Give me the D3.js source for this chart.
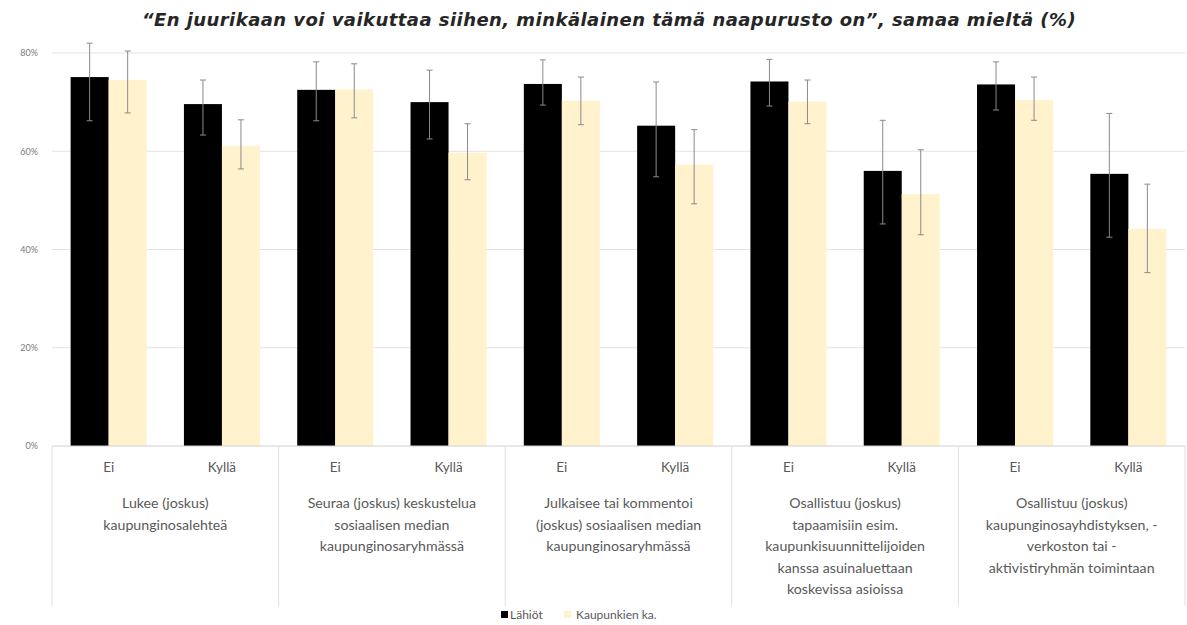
<!DOCTYPE html>
<html><head><meta charset="utf-8">
<script src="https://cdn.jsdelivr.net/npm/d3@7"></script>
<style>body{margin:0;background:#fff}svg{display:block}</style>
</head><body>
<svg id="c" width="1187" height="625"></svg>
<script>
const groups = [
  ["Lukee (joskus)", "kaupunginosalehteä"],
  ["Seuraa (joskus) keskustelua", "sosiaalisen median", "kaupunginosaryhmässä"],
  ["Julkaisee tai kommentoi", "(joskus) sosiaalisen median", "kaupunginosaryhmässä"],
  ["Osallistuu (joskus)", "tapaamisiin esim.", "kaupunkisuunnittelijoiden", "kanssa asuinaluettaan", "koskevissa asioissa"],
  ["Osallistuu (joskus)", "kaupunginosayhdistyksen, -", "verkoston tai -", "aktivistiryhmän toimintaan"]
];
const subcats = ["Ei", "Kyllä"];
const seriesNames = ["Lähiöt", "Kaupunkien ka."];
const lahiot      = [75.1, 69.6, 72.5, 70.0, 73.7, 65.2, 74.2, 56.0, 73.6, 55.4];
const lahiotLow   = [66.2, 63.3, 66.2, 62.5, 69.4, 54.8, 69.2, 45.2, 68.4, 42.5];
const lahiotHigh  = [82.0, 74.5, 78.2, 76.5, 78.6, 74.1, 78.7, 66.3, 78.2, 67.7];
const kaupunki     = [74.5, 61.1, 72.6, 59.7, 70.3, 57.3, 70.1, 51.3, 70.4, 44.2];
const kaupunkiLow  = [67.8, 56.4, 66.8, 54.2, 65.4, 49.3, 65.6, 43.0, 66.3, 35.3];
const kaupunkiHigh = [80.4, 66.4, 77.8, 65.6, 75.1, 64.4, 74.5, 60.3, 75.1, 53.3];
const yTicks = [0, 20, 40, 60, 80];
const title = "“En juurikaan voi vaikuttaa siihen, minkälainen tämä naapurusto on”, samaa mieltä (%)";

(function () {
const svg = d3.select("#c");
const mLeft = 52, mRight = 1185, mTop = 53, mBottom = 446;
const y = d3.scaleLinear().domain([0, 80]).range([mBottom, mTop]);
const keys = d3.range(10);
const x = d3.scaleBand().domain(keys).range([mLeft, mRight]).paddingInner(0).paddingOuter(0);
const inner = d3.scaleBand().domain([0, 1]).range([0, x.bandwidth()]).paddingInner(0).paddingOuter(0.49);
const gx = d3.scaleBand().domain(d3.range(5)).range([mLeft, mRight]);

svg.append("g").selectAll("line").data(yTicks.filter(d => d > 0)).join("line")
  .attr("x1", mLeft).attr("x2", mRight).attr("y1", d => y(d)).attr("y2", d => y(d))
  .attr("stroke", "#e3e3e3").attr("stroke-width", 1);

const yAxis = d3.axisLeft(y).tickValues(yTicks).tickSize(0).tickPadding(14).tickFormat(d => d + "%");
const ya = svg.append("g").attr("transform", `translate(${mLeft},0)`).call(yAxis);
ya.select(".domain").remove();
ya.selectAll("text").attr("font-family", "Lato, sans-serif").attr("font-size", 9).attr("fill", "#7a7a7a");

const series = [
  {vals: lahiot, lo: lahiotLow, hi: lahiotHigh, color: "#000000"},
  {vals: kaupunki, lo: kaupunkiLow, hi: kaupunkiHigh, color: "#fff2cc"}
];
series.forEach((s, si) => {
  svg.append("g").selectAll("rect").data(keys).join("rect")
    .attr("x", i => x(i) + inner(si)).attr("width", inner.bandwidth())
    .attr("y", i => y(s.vals[i])).attr("height", i => y(0) - y(s.vals[i]))
    .attr("fill", s.color);
});
series.forEach((s, si) => {
  const g = svg.append("g").attr("stroke", "#8a8a8a").attr("stroke-width", 1);
  keys.forEach(i => {
    const cx = x(i) + inner(si) + inner.bandwidth() / 2;
    g.append("line").attr("x1", cx).attr("x2", cx).attr("y1", y(s.hi[i])).attr("y2", y(s.lo[i]));
    g.append("line").attr("x1", cx - 3).attr("x2", cx + 3).attr("y1", y(s.hi[i])).attr("y2", y(s.hi[i]));
    g.append("line").attr("x1", cx - 3).attr("x2", cx + 3).attr("y1", y(s.lo[i])).attr("y2", y(s.lo[i]));
  });
});

svg.append("line").attr("x1", mLeft).attr("x2", mRight).attr("y1", mBottom).attr("y2", mBottom)
  .attr("stroke", "#d0d0d0");
svg.append("g").selectAll("line").data(d3.range(6)).join("line")
  .attr("x1", d => d < 5 ? gx(d) : mRight).attr("x2", d => d < 5 ? gx(d) : mRight)
  .attr("y1", mBottom).attr("y2", 606).attr("stroke", "#e0e0e0");

svg.append("g").selectAll("text").data(keys).join("text")
  .attr("x", i => x(i) + x.bandwidth() / 2).attr("y", 472)
  .attr("text-anchor", "middle").attr("font-family", "Lato, sans-serif").attr("font-size", 13.5)
  .attr("fill", "#595959").text(i => subcats[i % 2]);

groups.forEach((lines, gi) => {
  const t = svg.append("text").attr("text-anchor", "middle")
    .attr("font-family", "Lato, sans-serif").attr("font-size", 14.2).attr("fill", "#595959");
  lines.forEach((ln, li) => {
    t.append("tspan").attr("x", gx(gi) + gx.bandwidth() / 2).attr("y", 508 + li * 21.5).text(ln);
  });
});

svg.append("text").attr("x", 609).attr("y", 26).attr("text-anchor", "middle")
  .attr("font-family", "'DejaVu Sans', sans-serif").attr("font-weight", "bold").attr("font-style", "italic")
  .attr("font-size", 18).attr("letter-spacing", 0.45).attr("fill", "#262626").text(title);

const lg = svg.append("g").attr("font-family", "Lato, sans-serif").attr("font-size", 12).attr("fill", "#595959");
lg.append("rect").attr("x", 501).attr("y", 611).attr("width", 7).attr("height", 7).attr("fill", series[0].color);
lg.append("text").attr("x", 510).attr("y", 619).text(seriesNames[0]);
lg.append("rect").attr("x", 564).attr("y", 611).attr("width", 7).attr("height", 7).attr("fill", series[1].color);
lg.append("text").attr("x", 576).attr("y", 619).text(seriesNames[1]);
})();
</script>
</body></html>
